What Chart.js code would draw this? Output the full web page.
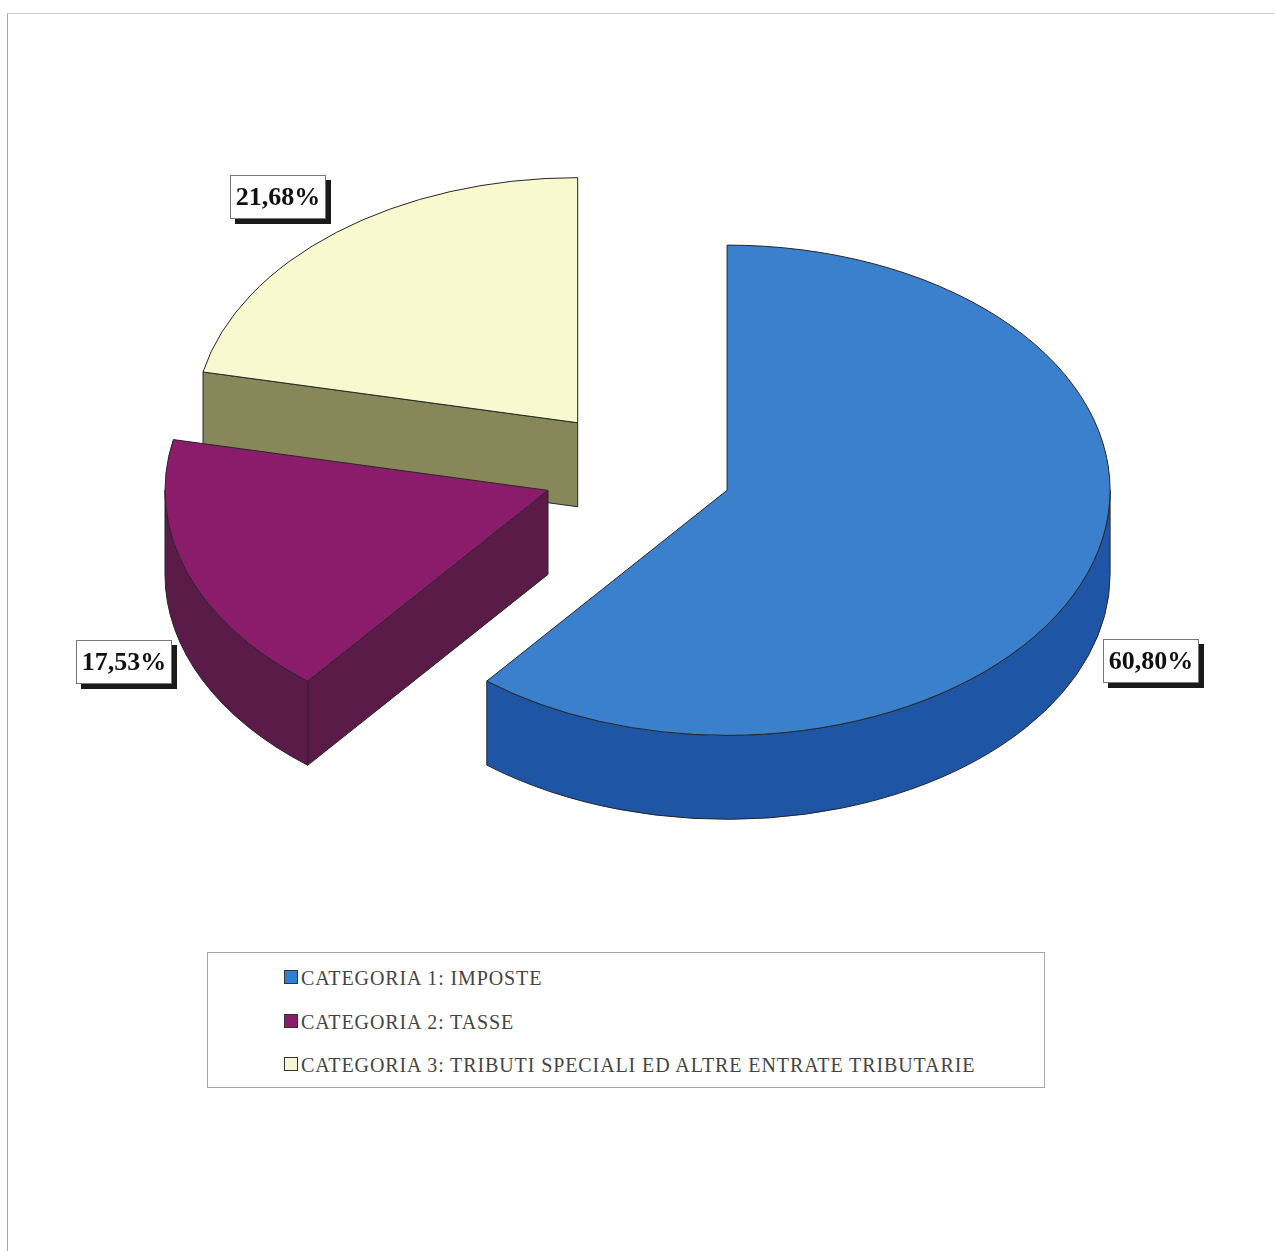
<!DOCTYPE html>
<html>
<head>
<meta charset="utf-8">
<title>Entrate tributarie</title>
<script src="https://cdn.jsdelivr.net/npm/chart.js@4.4.1/dist/chart.umd.min.js"></script>
<style>
  html, body { margin: 0; padding: 0; background: #fff; }
  body { width: 1275px; height: 1251px; position: relative; overflow: hidden; }
  #frame {
    position: absolute; left: 7px; top: 13px; width: 1300px; height: 1300px;
    border-left: 1px solid #a8a8a8; border-top: 1px solid #d2d2d2;
  }
  #pie { position: absolute; left: 0; top: 0; }
  #legend {
    position: absolute; left: 207px; top: 952px; width: 838px; height: 136px;
    box-sizing: border-box; border: 1px solid #a6a6a6; background: #fff;
    font-family: 'Liberation Serif', 'Times New Roman', serif; font-size: 20px; color: #444;
    letter-spacing: 0.9px;
  }
  .item { position: absolute; left: 76px; height: 20px; line-height: 20px; white-space: nowrap; }
  .swatch {
    display: inline-block; width: 12px; height: 12px; border: 1px solid #333;
    margin-right: 3px; vertical-align: 1px;
  }
</style>
</head>
<body>
<div id="frame"></div>
<canvas id="pie" width="1275" height="1251"></canvas>
<div id="legend"></div>

<script>
// categorie delle entrate tributarie (percentuali)
const categories = [
    'CATEGORIA 1: IMPOSTE',
    'CATEGORIA 2: TASSE',
    'CATEGORIA 3: TRIBUTI SPECIALI ED ALTRE ENTRATE TRIBUTARIE'
];
const shares = [60.80, 17.53, 21.68];

const topColors = ['#3a80cc', '#8b1b6b', '#f9f9d0'];
const sideColors = ['#1e55a5', '#5b1b48', '#87875a'];
const swatchColors = ['#2f7fd2', '#8b1b6b', '#f7f7d8'];

// fake 3d: squashed top face + side walls, slices pulled out along their middle angle
const pie3d = {
    id: 'pie3d',
    beforeDatasetsDraw(chart, args, opts) {
        const ctx = chart.ctx;
        const arcs = chart.getDatasetMeta(0).data;
        const ds = chart.data.datasets[0];

        const order = arcs.map((a, i) => i);
        order.sort((a, b) => {
            const pa = arcs[a].getProps(['startAngle', 'endAngle'], true);
            const pb = arcs[b].getProps(['startAngle', 'endAngle'], true);
            return Math.sin((pa.startAngle + pa.endAngle) / 2) - Math.sin((pb.startAngle + pb.endAngle) / 2);
        });

        ctx.save();
        ctx.lineWidth = 1;
        ctx.strokeStyle = opts.edgeColor;
        ctx.lineJoin = 'round';

        order.forEach(function (i) {
            const p = arcs[i].getProps(['x', 'y', 'startAngle', 'endAngle', 'outerRadius'], true);
            const s = p.startAngle, e = p.endAngle;
            const m = (s + e) / 2;
            const rx = p.outerRadius, ry = p.outerRadius * opts.tilt;
            const cx = p.x + Math.cos(m) * opts.explode;
            const cy = p.y + Math.sin(m) * opts.explode * opts.tilt;
            const d = opts.depth;
            const side = opts.sideColors[i];

            // radial walls facing the viewer
            function wall(a) {
                const px = cx + Math.cos(a) * rx, py = cy + Math.sin(a) * ry;
                ctx.beginPath();
                ctx.moveTo(cx, cy);
                ctx.lineTo(px, py);
                ctx.lineTo(px, py + d);
                ctx.lineTo(cx, cy + d);
                ctx.closePath();
                ctx.fillStyle = side;
                ctx.fill();
                ctx.stroke();
            }
            if (Math.cos(s) < -1e-6) wall(s);
            if (Math.cos(e) > 1e-6) wall(e);

            // outer rim, only the front half (0..PI) shows
            [0, 2 * Math.PI].forEach(function (base) {
                const a0 = Math.max(s, base), a1 = Math.min(e, base + Math.PI);
                if (a1 <= a0) return;
                ctx.beginPath();
                ctx.ellipse(cx, cy, rx, ry, 0, a0, a1);
                ctx.ellipse(cx, cy + d, rx, ry, 0, a1, a0, true);
                ctx.closePath();
                ctx.fillStyle = side;
                ctx.fill();
                ctx.stroke();
            });

            // top face
            ctx.beginPath();
            ctx.moveTo(cx, cy);
            ctx.ellipse(cx, cy, rx, ry, 0, s, e);
            ctx.closePath();
            ctx.fillStyle = ds.backgroundColor[i];
            ctx.fill();
            ctx.stroke();
        });
        ctx.restore();
        return false;
    },

    afterDraw(chart, args, opts) {
        const ctx = chart.ctx;
        const arcs = chart.getDatasetMeta(0).data;
        const values = chart.data.datasets[0].data;

        ctx.save();
        ctx.font = 'bold 26px "Liberation Serif", "Times New Roman", serif';
        ctx.textAlign = 'center';
        ctx.textBaseline = 'middle';

        arcs.forEach(function (arc, i) {
            const p = arc.getProps(['x', 'y', 'startAngle', 'endAngle', 'outerRadius'], true);
            const m = (p.startAngle + p.endAngle) / 2;
            const cx = p.x + Math.cos(m) * opts.explode;
            const cy = p.y + Math.sin(m) * opts.explode * opts.tilt;
            const lr = p.outerRadius + 16;
            const ax = cx + Math.cos(m) * lr;
            const ay = cy + Math.sin(m) * lr * opts.tilt + (Math.sin(m) > 0 ? opts.depth : 0);

            const text = values[i].toFixed(2).replace('.', ',') + '%';
            const w = Math.round(ctx.measureText(text).width + 11);
            const h = 44;
            const bx = Math.round(ax + Math.sign(Math.cos(m)) * w / 2 - w / 2);
            const by = Math.round(ay + Math.min(0, Math.sin(m)) * h * 0.85 - h / 2 + 2);

            ctx.fillStyle = '#1a1a1a';
            ctx.fillRect(bx + 5, by + 5, w, h);
            ctx.fillStyle = '#fff';
            ctx.fillRect(bx, by, w, h);
            ctx.strokeStyle = '#777';
            ctx.lineWidth = 1;
            ctx.strokeRect(bx + 0.5, by + 0.5, w - 1, h - 1);

            ctx.fillStyle = '#111';
            ctx.fillText(text, bx + w / 2, by + h / 2 + 1);
        });
        ctx.restore();
    }
};

const pieCanvas = document.getElementById('pie');

new Chart(pieCanvas, {
    type: 'pie',
    data: {
        labels: categories,
        datasets: [{
            data: shares,
            backgroundColor: topColors,
            borderWidth: 0
        }]
    },
    options: {
        responsive: false,
        animation: false,
        devicePixelRatio: 1,
        events: [],
        radius: 383,
        layout: { padding: { bottom: 311 } },
        plugins: {
            legend: { display: false },
            tooltip: { enabled: false },
            pie3d: {
                tilt: 0.64,
                depth: 84,
                explode: 95,
                edgeColor: '#262626',
                sideColors: sideColors
            }
        }
    },
    plugins: [pie3d]
});

// legend box under the pie
const legendBox = document.getElementById('legend');
categories.forEach(function (name, i) {
    const row = document.createElement('div');
    row.className = 'item';
    row.style.top = (15 + i * 43.5) + 'px';
    const sw = document.createElement('span');
    sw.className = 'swatch';
    sw.style.background = swatchColors[i];
    row.appendChild(sw);
    row.appendChild(document.createTextNode(name));
    legendBox.appendChild(row);
});
</script>
</body>
</html>
